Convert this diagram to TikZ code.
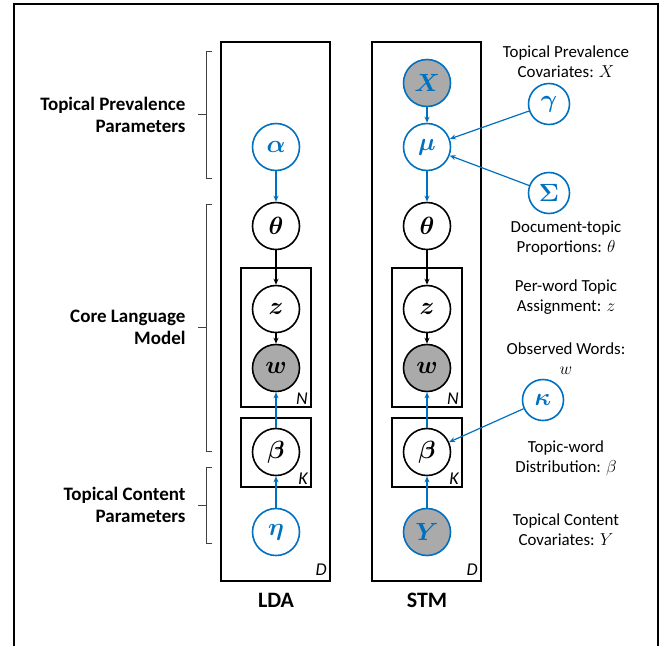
\documentclass[tikz,border=0pt]{standalone}
\usepackage{fontspec}
\setmainfont{Carlito}
\usepackage{amsmath}
\usepackage{bm}
\usepackage{xcolor}
\usepackage{tikz}
\usetikzlibrary{arrows.meta}

\definecolor{hypblue}{RGB}{0,112,192}
\definecolor{obsgray}{RGB}{170,170,170}

\tikzset{
	var/.style={circle, draw, line width=1.6pt, minimum size=47pt, inner sep=0pt, font=\fontsize{25}{25}\selectfont},
	hyper/.style={var, draw=hypblue, text=hypblue},
	small/.style={minimum size=41pt},
	obs/.style={fill=obsgray},
	plate/.style={draw, line width=1.6pt},
	platelabel/.style={font=\fontsize{18}{18}\selectfont\itshape, inner sep=1pt},
	link/.style={-{Stealth[length=6pt,width=5pt]}, line width=1.2pt},
	bluelink/.style={link, draw=hypblue},
	note/.style={font=\fontsize{16.9}{20}\selectfont, align=center},
	group/.style={font=\fontsize{19}{22}\selectfont\bfseries, align=right, anchor=east}
}

\begin{document}
\begin{tikzpicture}[x=1pt, y=-1pt]
	\useasboundingbox (0,0) rectangle (661,646);
	\draw[line width=2.8pt] (14,646) -- (14,4) -- (658,4) -- (658,646);
	
	% brackets on the left
	\foreach \ya/\yb/\txt [count=\i] in {51/178/{Topical Prevalence\\Parameters}, 204/451/{Core Language\\Model}, 467/543/{Topical Content\\Parameters}}
	{
		\pgfmathsetmacro{\ym}{(\ya+\yb)/2};
		\draw[line width=0.8pt, color=black!75] (212,\ya) -- (206,\ya) -- (206,\yb) -- (212,\yb);
		\draw[line width=0.8pt, color=black!75] (206,\ym) -- (198,\ym);
		\node[group] (grp\i) at (189,\ym) {\txt};
	}
	
	% the two models
	\foreach \m/\cx/\name in {lda/276/LDA, stm/427/STM}
	{
		\draw[plate] (\cx-55,42) rectangle (\cx+54,581);
		\draw[plate] (\cx-35,268) rectangle (\cx+35,407);
		\draw[plate] (\cx-35,418) rectangle (\cx+35,487);
		\node[platelabel, anchor=south east] (\m-n) at (\cx+33,406) {N};
		\node[platelabel, anchor=south east] (\m-k) at (\cx+33,486) {K};
		\node[platelabel, anchor=south east] (\m-d) at (\cx+52,577) {D};
		\node[font=\fontsize{22}{22}\selectfont\bfseries] (\m-name) at (\cx,600) {\name};
		
		\node[var] (\m-theta) at (\cx,226) {$\bm{\theta}$};
		\node[var] (\m-z) at (\cx,309) {$\bm{z}$};
		\node[var, obs] (\m-w) at (\cx,368) {$\bm{w}$};
		\node[var] (\m-beta) at (\cx,452) {$\bm{\beta}$};
		
		\draw[link] (\m-theta) -- (\m-z);
		\draw[link] (\m-z) -- (\m-w);
		\draw[bluelink] (\m-beta) -- (\m-w);
	}
	
	% LDA priors
	\node[hyper] (alpha) at (276,147) {$\bm{\alpha}$};
	\node[hyper] (eta) at (276,532) {$\bm{\eta}$};
	\draw[bluelink] (alpha) -- (lda-theta);
	\draw[bluelink] (eta) -- (lda-beta);
	
	% STM covariates
	\node[hyper, obs] (covx) at (427,83) {$\bm{X}$};
	\node[hyper] (mu) at (427,147) {$\bm{\mu}$};
	\node[hyper, obs] (covy) at (427,532) {$\bm{Y}$};
	\node[hyper, small] (gamma) at (549,104) {$\bm{\gamma}$};
	\node[hyper, small] (sigma) at (549,193) {$\bm{\Sigma}$};
	\node[hyper, small] (kappa) at (543,400) {$\bm{\kappa}$};
	\draw[bluelink] (covx) -- (mu);
	\draw[bluelink] (mu) -- (stm-theta);
	\draw[bluelink] (covy) -- (stm-beta);
	\draw[bluelink] (gamma) -- (mu);
	\draw[bluelink] (sigma) -- (mu);
	\draw[bluelink] (kappa) -- (stm-beta);
	
	% notes on the right
	\node[note] (n-covx) at (566,62) {Topical Prevalence\\Covariates: $X$};
	\node[note] (n-theta) at (566,238) {Document-topic\\Proportions: $\theta$};
	\node[note] (n-z) at (566,297) {Per-word Topic\\Assignment: $z$};
	\node[note] (n-w) at (566,359) {Observed Words:\\$w$};
	\node[note] (n-beta) at (566,458) {Topic-word\\Distribution: $\beta$};
	\node[note] (n-covy) at (566,530) {Topical Content\\Covariates: $Y$};
\end{tikzpicture}
\end{document}
